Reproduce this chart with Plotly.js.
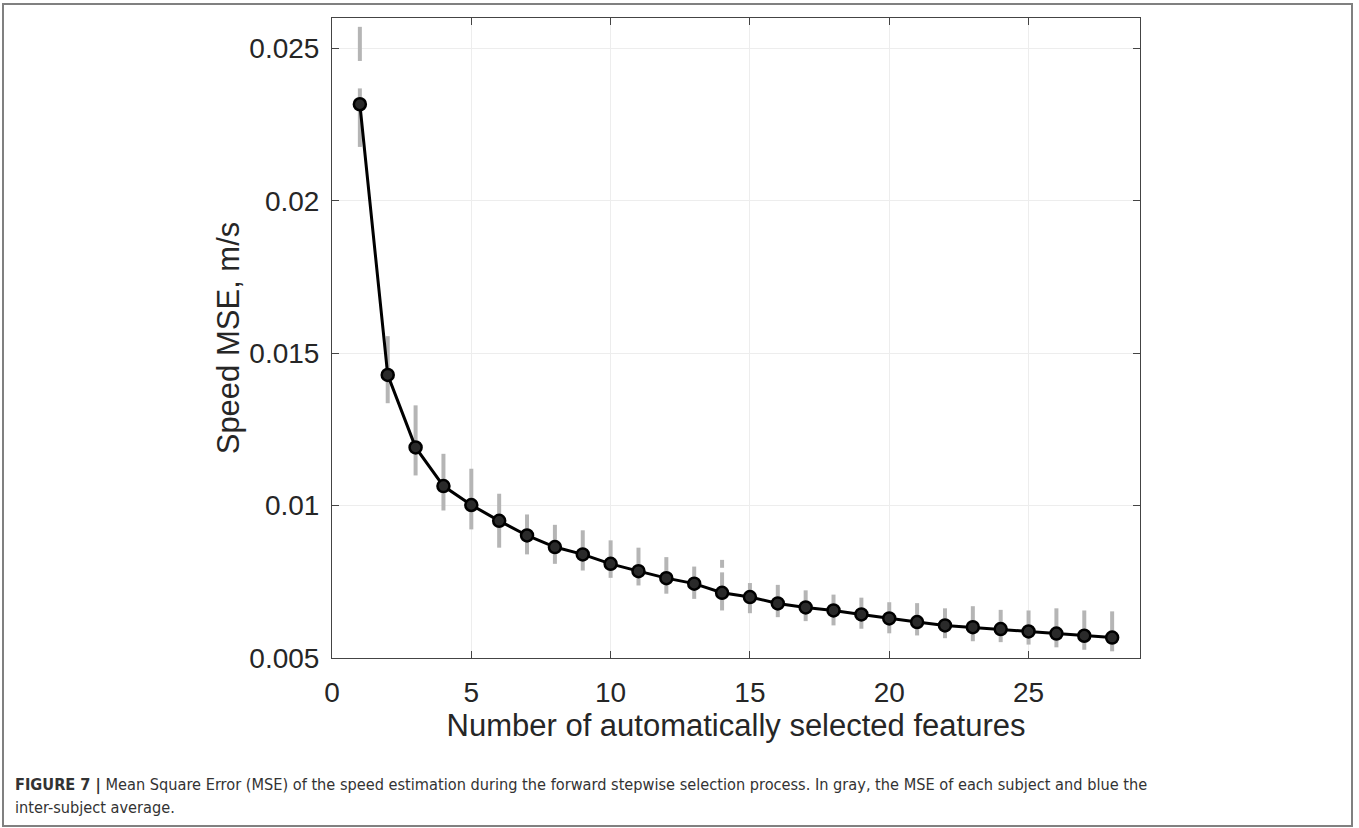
<!DOCTYPE html>
<html>
<head>
<meta charset="utf-8">
<script src="https://cdn.plot.ly/plotly-3.0.1.min.js"></script>
<style>
html,body{margin:0;padding:0;background:#fff;}
#chart{width:1359px;height:828px;}
</style>
</head>
<body>
<div id="chart"></div>
<script>
// Number of features
const nFeatures = [1,2,3,4,5,6,7,8,9,10,11,12,13,14,15,16,17,18,19,20,21,22,23,24,25,26,27,28];
// Inter-subject average MSE
const meanMSE = [0.02317,0.01429,0.01191,0.01064,0.01002,0.00950,0.00902,0.00864,0.00840,0.00809,0.00785,0.00762,0.00744,0.00714,0.00700,0.00679,0.00666,0.00656,0.00643,0.00630,0.00618,0.00607,0.00601,0.00595,0.00587,0.00580,0.00573,0.00567];
// Per-subject MSE spread (min / max)
const subjMin = [0.02177,0.01336,0.01099,0.00984,0.00922,0.00862,0.00840,0.00809,0.00787,0.00763,0.00738,0.00711,0.00694,0.00656,0.00647,0.00634,0.00621,0.00607,0.00596,0.00581,0.00574,0.00565,0.00555,0.00552,0.00544,0.00535,0.00527,0.00522];
const subjMax = [0.02369,0.01556,0.01329,0.01170,0.01121,0.01039,0.00971,0.00937,0.00919,0.00886,0.00862,0.00831,0.00800,0.00781,0.00746,0.00740,0.00722,0.00708,0.00698,0.00683,0.00680,0.00663,0.00670,0.00658,0.00656,0.00663,0.00656,0.00653];
// Detached subject values
const outlierX = [1, 14];
const outlierLow = [0.02459, 0.00796];
const outlierHigh = [0.02571, 0.00822];
const xTicks = [0,5,10,15,20,25];
const yTicks = [0.005,0.01,0.015,0.02,0.025];
const yTickText = ['0.005','0.01','0.015','0.02','0.025'];

const segX = [], segY = [];
nFeatures.forEach((x,i)=>{ segX.push(x,x,null); segY.push(subjMin[i],subjMax[i],null); });
outlierX.forEach((x,i)=>{ segX.push(x,x,null); segY.push(outlierLow[i],outlierHigh[i],null); });

const gray = {
  x: segX, y: segY, mode: 'lines', type: 'scatter',
  line: {color: '#b5b5b5', width: 4}, hoverinfo: 'skip', showlegend: false
};
const avg = {
  x: nFeatures, y: meanMSE, mode: 'lines+markers', type: 'scatter',
  line: {color: '#000', width: 3},
  marker: {size: 12, color: '#2a2a2a', line: {color: '#000', width: 2.5}},
  showlegend: false
};

const L = 332, R = 1140, T = 18, B = 658, W = 1359, H = 828;
const pw = R - L, ph = B - T;
const px = v => (v - L) / pw;
const py = v => (B - v) / ph;

const fontMain = 'Liberation Sans, Arial, sans-serif';
const capFont = 'Liberation Sans Narrow, Arial Narrow, DejaVu Sans Condensed, sans-serif';
const layout = {
  width: W, height: H,
  margin: {l: L, r: W - R, t: T, b: H - B},
  paper_bgcolor: '#fff', plot_bgcolor: '#fff',
  font: {family: fontMain, color: '#262626'},
  xaxis: {
    range: [0, 29], tickvals: xTicks, ticks: 'inside', ticklen: 7, tickcolor: '#444',
    showline: true, linecolor: '#444', linewidth: 1, mirror: 'ticks',
    showgrid: true, gridcolor: '#ededed', gridwidth: 1, zeroline: false,
    tickfont: {size: 28, family: fontMain, color: '#262626'}, ticklabelstandoff: 9,
    title: {text: 'Number of automatically selected features', font: {size: 31, family: fontMain, color: '#262626'}, standoff: 6}
  },
  yaxis: {
    range: [0.005, 0.026], tickvals: yTicks, ticktext: yTickText, ticks: 'inside', ticklen: 7, tickcolor: '#444',
    showline: true, linecolor: '#444', linewidth: 1, mirror: 'ticks',
    showgrid: true, gridcolor: '#ededed', gridwidth: 1, zeroline: false,
    tickfont: {size: 28, family: fontMain, color: '#262626'}, ticklabelstandoff: 6,
    title: {text: 'Speed MSE, m/s', font: {size: 31, family: fontMain, color: '#262626'}, standoff: 0}
  },
  shapes: [{
    type: 'rect', xref: 'paper', yref: 'paper', layer: 'below',
    x0: px(3), x1: px(1352), y0: py(826), y1: py(4),
    line: {color: '#808080', width: 2}
  }],
  annotations: [
    {xref: 'paper', yref: 'paper', x: px(13), y: py(785), xanchor: 'left', yanchor: 'middle', showarrow: false,
     text: '<b>FIGURE 7 |</b> Mean Square Error (MSE) of the speed estimation during the forward stepwise selection process. In gray, the MSE of each subject and blue the',
     font: {family: capFont, size: 16.2, color: '#333'}},
    {xref: 'paper', yref: 'paper', x: px(13), y: py(807), xanchor: 'left', yanchor: 'middle', showarrow: false,
     text: 'inter-subject average.',
     font: {family: capFont, size: 16.2, color: '#333'}}
  ]
};

Plotly.newPlot('chart', [gray, avg], layout, {displayModeBar: false, staticPlot: true});
</script>
</body>
</html>
